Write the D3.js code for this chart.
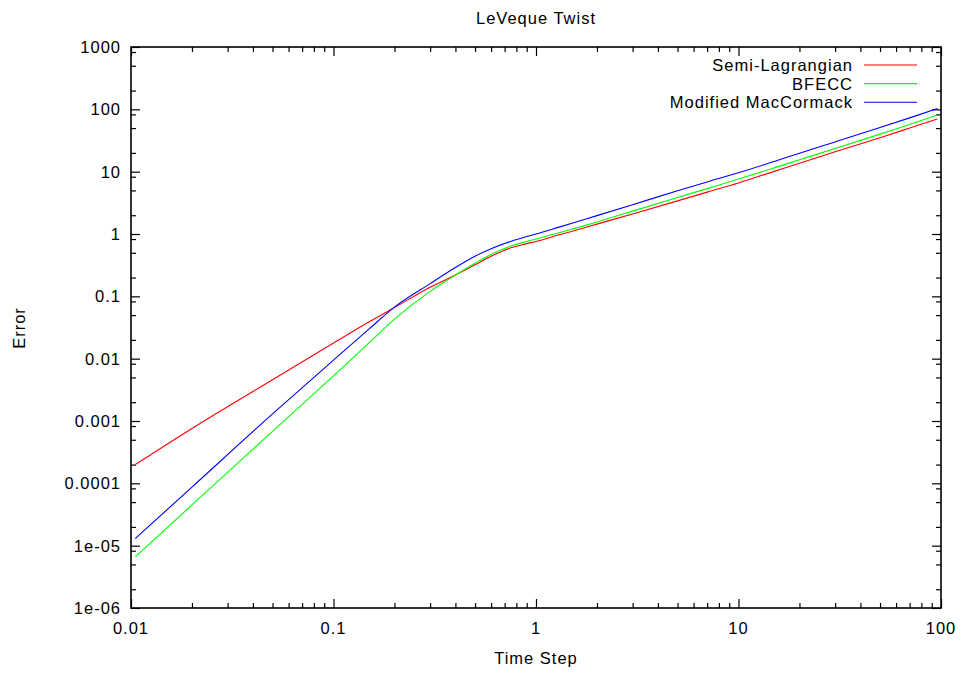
<!DOCTYPE html>
<html><head><meta charset="utf-8">
<script src="https://cdn.jsdelivr.net/npm/d3@7"></script>
<style>
body{margin:0;background:#fff;}
text{font-family:"Liberation Sans",Arial,Helvetica,sans-serif;font-size:16.5px;letter-spacing:1px;fill:#000;}
</style></head><body>
<svg id="c" width="964" height="673"></svg>
<script>
const title = "LeVeque Twist";
const xTitle = "Time Step";
const yTitle = "Error";
const seriesNames = ["Semi-Lagrangian","BFECC","Modified MacCormack"];
const seriesColors = ["#ff0000","#00ff00","#0000ff"];
const timeSteps = [0.0105,0.02,0.05,0.1,0.15,0.2,0.3,0.4,0.5,0.6,0.75,0.9,1.0,1.3,1.65,2,3,5,7,10,15,20,30,50,70,96];
const semiLagrangian = [2.0e-4,7.6e-4,0.0046,0.0178,0.039,0.066,0.14,0.22,0.32,0.44,0.6,0.7,0.76,0.97,1.2,1.44,2.1,3.4,4.7,6.6,10.1,13.6,20.8,35,50,70];
const bfecc = [6.6e-6,4.5e-5,6.8e-4,0.0053,0.018,0.043,0.12,0.22,0.34,0.47,0.64,0.76,0.83,1.05,1.3,1.56,2.33,3.85,5.35,7.6,11.5,15.5,23.5,40,57,81];
const macCormack = [1.3e-5,8.7e-5,0.0013,0.0095,0.03,0.067,0.16,0.29,0.44,0.58,0.76,0.91,1.0,1.29,1.63,1.97,2.95,4.95,6.85,9.6,14.6,19.8,30,51,73,103];
const xTickValues = [0.01,0.1,1,10,100];
const xTickLabels = ["0.01","0.1","1","10","100"];
const yTickValues = [1000,100,10,1,0.1,0.01,0.001,0.0001,1e-5,1e-6];
const yTickLabels = ["1000","100","10","1","0.1","0.01","0.001","0.0001","1e-05","1e-06"];
const xMinorFactors = [2,3,4,5,6,7,8,9];
const yMinorFactors = [2,5,0.83];

const svg = d3.select("#c");
const L=131,R=941,T=47,B=608;
const x = d3.scaleLog().domain([0.01,100]).range([L,R]);
const y = d3.scaleLog().domain([1e-6,1000]).range([B,T]);

const xMinor=[]; xTickValues.slice(0,-1).forEach(v=>xMinorFactors.forEach(f=>xMinor.push(v*f)));
const yMinor=[]; yTickValues.forEach(v=>yMinorFactors.forEach(f=>{const m=v*f; if(m>=1e-6&&m<=1000) yMinor.push(m);}));

function ax(gen,tr,vals,size){
  const g=svg.append("g").attr("transform",tr).call(gen.tickValues(vals).tickSize(size).tickFormat(""));
  g.select(".domain").remove();
  g.selectAll("line").attr("stroke","#000").attr("stroke-width",1.2);
  g.selectAll("text").remove();
  return g;
}
ax(d3.axisBottom(x),`translate(0,${B})`,xTickValues,-9);
ax(d3.axisBottom(x),`translate(0,${B})`,xMinor,-5);
ax(d3.axisTop(x),`translate(0,${T})`,xTickValues,-9);
ax(d3.axisTop(x),`translate(0,${T})`,xMinor,-5);
ax(d3.axisLeft(y),`translate(${L},0)`,yTickValues,-9);
ax(d3.axisLeft(y),`translate(${L},0)`,yMinor,-5);
ax(d3.axisRight(y),`translate(${R},0)`,yTickValues,-9);
ax(d3.axisRight(y),`translate(${R},0)`,yMinor,-5);

// tick labels
svg.append("g").selectAll("text").data(xTickValues).join("text")
  .attr("x",d=>x(d)).attr("y",B+26).attr("text-anchor","middle").text((d,i)=>xTickLabels[i]);
svg.append("g").selectAll("text").data(yTickValues).join("text")
  .attr("x",L-10).attr("y",d=>y(d)+6).attr("text-anchor","end").text((d,i)=>yTickLabels[i]);

// data
const allSeries=[semiLagrangian,bfecc,macCormack];
const line=d3.line().x((d,i)=>x(timeSteps[i])).y(d=>y(d)).curve(d3.curveMonotoneX);
svg.append("g").selectAll("path").data(allSeries).join("path")
  .attr("d",d=>line(d)).attr("fill","none").attr("stroke",(d,i)=>seriesColors[i]).attr("stroke-width",1.1);

// frame
svg.append("rect").attr("x",L).attr("y",T).attr("width",R-L).attr("height",B-T)
  .attr("fill","none").attr("stroke","#000").attr("stroke-width",1.6);

// legend
const lg=svg.append("g");
seriesNames.forEach((n,i)=>{
  const yy=65+i*18.6;
  lg.append("text").attr("x",853).attr("y",yy+6).attr("text-anchor","end").text(n);
  lg.append("line").attr("x1",864).attr("x2",917).attr("y1",yy).attr("y2",yy).attr("stroke",seriesColors[i]).attr("stroke-width",1.1);
});

// titles
svg.append("text").attr("x",(L+R)/2).attr("y",24).attr("text-anchor","middle").text(title);
svg.append("text").attr("x",(L+R)/2).attr("y",664).attr("text-anchor","middle").text(xTitle);
svg.append("text").attr("transform",`translate(25,328) rotate(-90)`).attr("text-anchor","middle").text(yTitle);
</script></body></html>
